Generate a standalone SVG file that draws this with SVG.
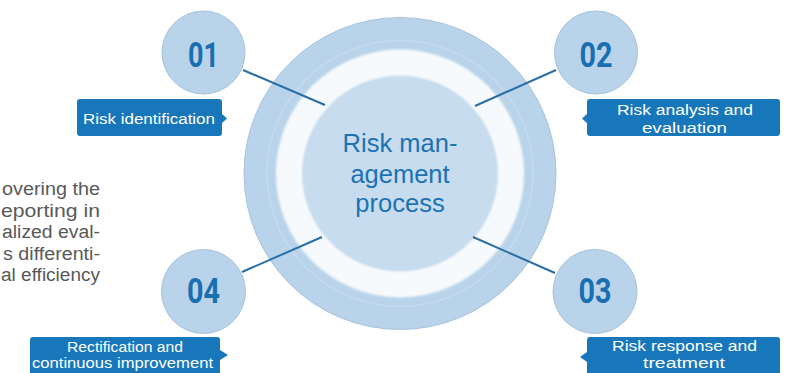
<svg xmlns="http://www.w3.org/2000/svg" width="792" height="373" viewBox="0 0 792 373">
<defs>
<style>
.para{font-family:"Liberation Sans",Arial,sans-serif;font-size:18px;fill:#595959;text-anchor:end}
.num{font-family:Roboto,"Liberation Sans",sans-serif;font-weight:700;font-size:35px;fill:#1a6fb0;text-anchor:middle}
.small{fill:#b9d4ea;stroke:#a3c2dd;stroke-width:1}
.lbl{fill:#1877bb}
.lt{font-family:"Liberation Sans",Arial,sans-serif;font-size:14.7px;fill:#ffffff;text-anchor:middle}
.ctr{font-family:"Liberation Sans",Arial,sans-serif;font-size:25.5px;fill:#1c72b3;text-anchor:middle}
.conn{stroke:#2a6ea6;stroke-width:2;fill:none}
</style>
<filter id="soft" x="-20%" y="-20%" width="140%" height="140%"><feGaussianBlur stdDeviation="1.3"/></filter>
</defs>
<rect width="792" height="373" fill="#ffffff"/>
<g id="paragraph">
<text class="para" x="100" y="195" textLength="98" lengthAdjust="spacingAndGlyphs">overing the</text>
<text class="para" x="100" y="216.5" textLength="99" lengthAdjust="spacingAndGlyphs">eporting in</text>
<text class="para" x="100" y="238" textLength="98" lengthAdjust="spacingAndGlyphs">alized eval-</text>
<text class="para" x="100" y="259.5" textLength="97" lengthAdjust="spacingAndGlyphs">s differenti-</text>
<text class="para" x="100" y="281" textLength="99" lengthAdjust="spacingAndGlyphs">al efficiency</text>
</g>
<g id="center">
<circle cx="400" cy="173.5" r="156" fill="#b9d4ea" stroke="#a6c3de" stroke-width="1"/>
<circle cx="400" cy="173.5" r="133" fill="none" stroke="#c4dbee" stroke-width="1.5"/>
<circle cx="400" cy="173.5" r="124" fill="#f7fafd" filter="url(#soft)"/>
<circle cx="400" cy="173.5" r="98" fill="#c7dcef" filter="url(#soft)"/>
<circle cx="400" cy="173.5" r="96.5" fill="#c7dcef"/>
<text class="ctr" x="400" y="152">Risk man-</text>
<text class="ctr" x="400" y="182.5">agement</text>
<text class="ctr" x="400" y="212">process</text>
</g>
<g id="connectors">
<line class="conn" x1="243" y1="70" x2="325" y2="105"/>
<line class="conn" x1="475" y1="106" x2="556" y2="70"/>
<line class="conn" x1="322" y1="237" x2="242" y2="272"/>
<line class="conn" x1="473" y1="237" x2="555" y2="273"/>
</g>
<g id="n01">
<circle class="small" cx="203.5" cy="52.5" r="41.5"/>
<text class="num" x="203.5" y="67" textLength="31" lengthAdjust="spacingAndGlyphs">01</text>
</g>
<g id="n02">
<circle class="small" cx="596" cy="52.5" r="41.5"/>
<text class="num" x="596" y="67" textLength="33" lengthAdjust="spacingAndGlyphs">02</text>
</g>
<g id="n03">
<circle class="small" cx="595" cy="291.5" r="42"/>
<text class="num" x="595" y="303" textLength="33" lengthAdjust="spacingAndGlyphs">03</text>
</g>
<g id="n04">
<circle class="small" cx="203.5" cy="291.5" r="42"/>
<text class="num" x="203.5" y="303" textLength="33" lengthAdjust="spacingAndGlyphs">04</text>
</g>
<g id="l01">
<path class="lbl" d="M80,99 H219 Q222,99 222,102 V114 L227,118.5 L222,123 V133 Q222,136 219,136 H80 Q77,136 77,133 V102 Q77,99 80,99 Z"/>
<text class="lt" x="149" y="123.5" textLength="132" lengthAdjust="spacingAndGlyphs">Risk identification</text>
</g>
<g id="l02">
<path class="lbl" d="M590,99 H777 Q780,99 780,102 V133 Q780,136 777,136 H590 Q587,136 587,133 V123 L582,118.5 L587,114 V102 Q587,99 590,99 Z"/>
<text class="lt" x="685" y="115" textLength="136" lengthAdjust="spacingAndGlyphs">Risk analysis and</text>
<text class="lt" x="684.5" y="132.5" textLength="85" lengthAdjust="spacingAndGlyphs">evaluation</text>
</g>
<g id="l03">
<path class="lbl" d="M590,337 H777 Q780,337 780,340 V380 H587 V362 L580,357 L587,352 V340 Q587,337 590,337 Z"/>
<text class="lt" x="684.5" y="351" textLength="145" lengthAdjust="spacingAndGlyphs">Risk response and</text>
<text class="lt" x="684" y="368" textLength="82" lengthAdjust="spacingAndGlyphs">treatment</text>
</g>
<g id="l04">
<path class="lbl" d="M33,337 H217 Q220,337 220,340 V350 L228,355 L220,360 V380 H30 V340 Q30,337 33,337 Z"/>
<text class="lt" x="125" y="351.5" textLength="116" lengthAdjust="spacingAndGlyphs">Rectification and</text>
<text class="lt" x="122.5" y="368" textLength="181" lengthAdjust="spacingAndGlyphs">continuous improvement</text>
</g>
</svg>
